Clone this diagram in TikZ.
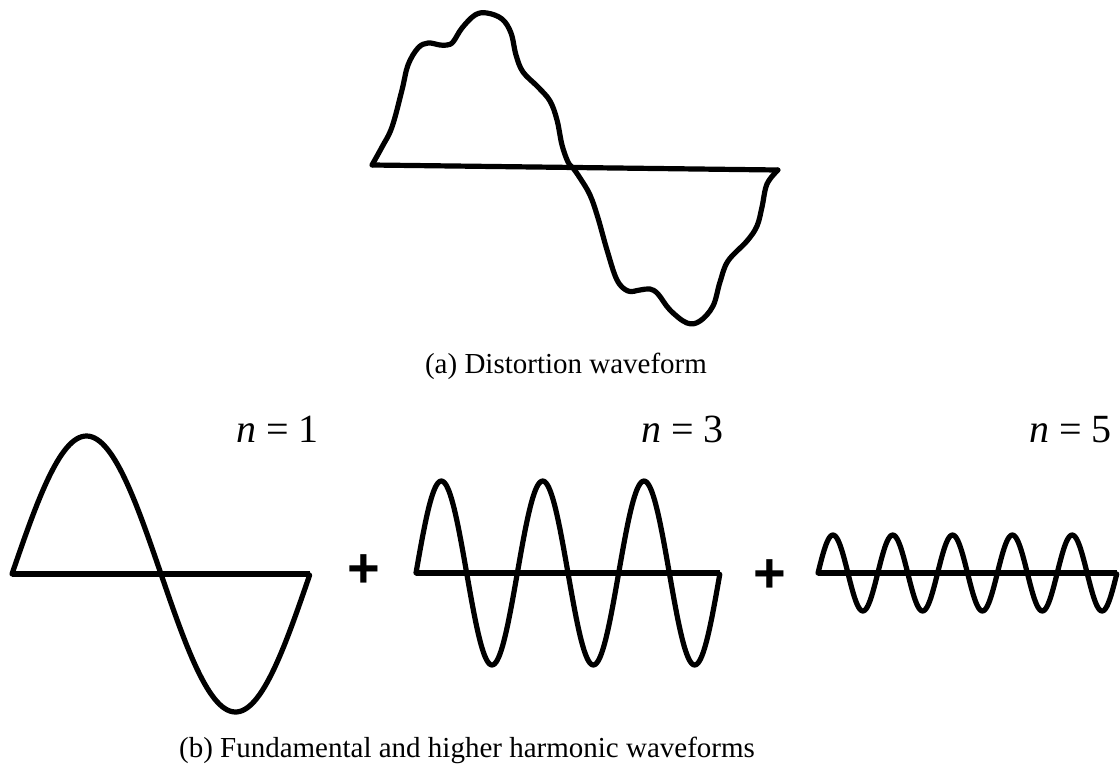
\documentclass[tikz,border=0pt]{standalone}
\usepackage{fontspec}
\setmainfont{Liberation Serif}
\newfontfamily\plusfont{Liberation Sans}
\begin{document}
\begin{tikzpicture}[x=1pt,y=-1pt,
  wave/.style={line width=5.2pt, line join=round, line cap=round},
  axisline/.style={line width=5.2pt, line cap=butt},
  caption/.style={inner sep=0pt, anchor=base, font=\fontsize{29}{34}\selectfont},
  nlabel/.style={inner sep=0pt, anchor=base west, font=\fontsize{40}{46}\selectfont},
  plussign/.style={inner sep=0pt, font=\plusfont\bfseries\fontsize{56}{60}\selectfont}]
\useasboundingbox (0,0) rectangle (1120,769);

% (a) distortion waveform
\coordinate (dL) at (372,165);
\coordinate (dR) at (778,170);
\draw[axisline] (dL) -- (dR);
\draw[wave] plot[smooth, tension=0.6] coordinates {
 (372,165) (382,147) (392,127) (402,90) (408,65) (418,48) (428,43) (440,45) (447,45)
 (453,42) (462,28) (475,15) (487,13) (502,19) (511,33) (516,55) (523,72) (538,87)
 (550,101) (557,120) (562,145) (568,162) (573,168)
 (580,178) (590,195) (598,218) (607,250) (617,280) (628,291) (640,290) (650,289)
 (658,294) (670,310) (687,323) (700,321) (713,306) (720,282) (728,261) (747,241)
 (757,226) (762,207) (767,184) (778,170)};
\node[caption] (capA) at (566,373) {(a) Distortion waveform};

% (b) fundamental n = 1
\coordinate (f1L) at (12,574);
\coordinate (f1R) at (310,574);
\draw[axisline] (f1L) -- (f1R);
\draw[wave] plot[domain=0:1, samples=120] ({12+298*\x},{574-138*sin(360*\x)});
\node[nlabel] (n1) at (236,442) {{\itshape n} = 1};

\node[plussign] (plusA) at (364,571) {+};

% third harmonic n = 3
\coordinate (f3L) at (416,573);
\coordinate (f3R) at (720,573);
\draw[axisline] (f3L) -- (f3R);
\draw[wave] plot[domain=0:1, samples=240] ({416+304*\x},{573-92*sin(3*360*\x)});
\node[nlabel] (n3) at (641,442) {{\itshape n} = 3};

\node[plussign] (plusB) at (770,576) {+};

% fifth harmonic n = 5
\coordinate (f5L) at (818,573);
\coordinate (f5R) at (1117,573);
\draw[axisline] (f5L) -- (f5R);
\draw[wave] plot[domain=0:1, samples=300] ({818+299*\x},{573-38*sin(5*360*\x)});
\node[nlabel] (n5) at (1029,442) {{\itshape n} = 5};

\node[caption] (capB) at (467,757) {(b) Fundamental and higher harmonic waveforms};
\end{tikzpicture}
\end{document}
